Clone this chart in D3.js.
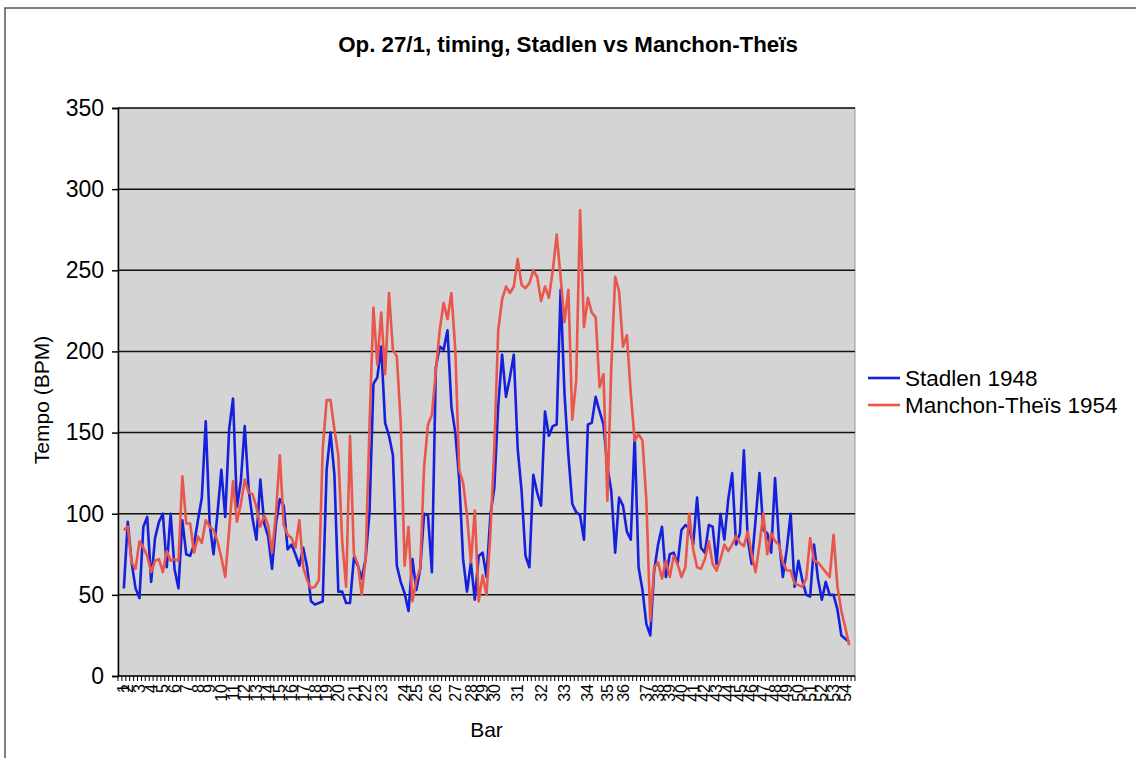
<!DOCTYPE html>
<html>
<head>
<meta charset="utf-8">
<script src="https://cdn.jsdelivr.net/npm/d3@7"></script>
<style>
  body { margin: 0; background: #fff; }
  svg { display: block; font-family: 'Liberation Sans', Arial, sans-serif; }
</style>
</head>
<body>
<div id="chart"></div>
<script>
const width = 1136;
const height = 758;

// tempo per beat (BPM)
const stadlen = [
  54, 95, 70, 54, 48, 92, 98, 58, 85, 95,
  100, 67, 100, 66, 54, 96, 75, 74, 81, 96,
  110, 157, 94, 75, 100, 127, 98, 152, 171, 104,
  120, 154, 115, 97, 84, 121, 94, 86, 66, 94,
  109, 105, 78, 81, 75, 68, 79, 67, 46, 44,
  45, 46, 127, 150, 124, 52, 52, 45, 45, 73, 68,
  60, 72, 101, 180, 184, 203, 156, 148, 136, 68,
  58, 51, 40, 72, 53, 66, 100, 99, 64,
  190, 203, 201, 213, 166, 150, 121, 72, 52, 70,
  47, 74, 76, 61, 99, 116, 166, 198, 172, 184,
  198, 140, 114, 74, 67, 124, 113, 105, 163, 148,
  154, 155, 238, 174, 136, 106, 101, 99, 84, 155,
  156, 172, 163, 155, 129, 114, 76, 110, 105, 89,
  84, 148, 67, 53, 32, 25, 65, 81, 92, 61,
  75, 76, 69, 90, 93, 91, 81, 110, 79, 76,
  93, 92, 69, 100, 84, 109, 125, 81, 88, 139,
  84, 69, 96, 125, 90, 88, 76, 122, 84, 61,
  78, 100, 55, 71, 59, 50, 49, 81, 60, 47,
  58, 50, 50, 41, 25, 23, 21
];

const manchon = [
  90, 92, 70, 66, 83, 79, 74, 64, 71, 72,
  64, 77, 71, 72, 71, 123, 94, 94, 76, 86,
  82, 96, 92, 90, 83, 73, 61, 90, 120, 95,
  106, 121, 113, 112, 104, 92, 99, 93, 76, 100,
  136, 93, 87, 85, 79, 96, 67, 59, 54, 55, 59,
  140, 170, 170, 152, 136, 83, 55, 148, 75, 69,
  50, 72, 154, 227, 192, 224, 186, 236, 201, 197,
  156, 68, 92, 46, 59, 66, 129, 155, 161,
  188, 213, 230, 220, 236, 201, 127, 119, 99, 70,
  102, 46, 62, 50, 88, 140, 213, 232, 240, 236,
  240, 257, 241, 239, 242, 250, 246, 231, 240, 233,
  250, 272, 246, 218, 238, 158, 182, 287, 215, 233,
  224, 221, 178, 186, 108, 190, 246, 237, 203, 210,
  174, 145, 149, 145, 108, 34, 67, 70, 60, 71,
  61, 74, 69, 61, 67, 100, 78, 67, 66, 72,
  83, 69, 65, 72, 81, 77, 81, 86, 82, 80,
  89, 75, 64, 81, 100, 75, 88, 83, 81, 70,
  65, 65, 57, 56, 55, 60, 85, 71, 70, 67,
  64, 61, 87, 55, 40, 30, 19
];

// bar number and index of the beat where its label sits
const barNumbers = d3.range(1, 55);
const barStarts = [
  0, 1, 4, 7, 10, 13, 16, 19, 22, 25,
  28, 31, 34, 37, 40, 43, 46, 49, 52, 55,
  59, 62, 66, 72, 75, 80, 85, 89, 92, 95,
  101, 107, 113, 119, 124, 128, 134, 137, 140, 143,
  146, 149, 152, 155, 158, 161, 164, 167, 170, 173,
  176, 179, 182, 185
];

const yTicks = [0, 50, 100, 150, 200, 250, 300, 350];
const seriesNames = ['Stadlen 1948', 'Manchon-Theïs 1954'];
const seriesColors = ['#1420dc', '#e8564c'];

const margin = { top: 108, right: 281, bottom: 82, left: 118 };
const plotW = width - margin.left - margin.right;
const plotH = height - margin.top - margin.bottom;

const svg = d3
  .select('#chart')
  .append('svg')
  .attr('width', width)
  .attr('height', height);

// outer chart frame
svg.append('path')
  .attr('d', 'M5,' + height + 'V8H' + width)
  .attr('fill', 'none')
  .attr('stroke', '#555')
  .attr('stroke-width', 1.5);

const g = svg.append('g').attr('transform', `translate(${margin.left},${margin.top})`);

const N = stadlen.length;
const x = d3.scalePoint().domain(d3.range(N)).range([0, plotW]).padding(1.5);
const y = d3.scaleLinear().domain([0, 350]).range([plotH, 0]);

g.append('rect')
  .attr('width', plotW)
  .attr('height', plotH)
  .attr('fill', '#d4d4d4')
  .attr('stroke', '#9a9a9a')
  .attr('stroke-width', 1);

g.selectAll('line.grid')
  .data(yTicks.slice(1))
  .enter()
  .append('line')
  .attr('class', 'grid')
  .attr('x1', 0)
  .attr('x2', plotW)
  .attr('y1', (d) => y(d))
  .attr('y2', (d) => y(d))
  .attr('stroke', '#111')
  .attr('stroke-width', 1.5);

// y axis
const yAxis = d3.axisLeft(y).tickValues(yTicks).tickSize(6).tickPadding(8);
g.append('g')
  .call(yAxis)
  .call((s) => s.select('.domain').attr('stroke', '#000').attr('stroke-width', 1.5))
  .call((s) => s.selectAll('.tick line').attr('stroke', '#000').attr('stroke-width', 1.5))
  .call((s) =>
    s.selectAll('.tick text')
      .attr('font-size', 23)
      .attr('fill', '#000')
      .attr('font-family', "'Liberation Sans', Arial, sans-serif")
  );

// x axis: one tick per beat boundary
const step = x.step();
const tickPos = d3.range(N + 4).map((k) => k * step).filter((v) => v <= plotW + 0.5);
const xa = g.append('g').attr('transform', `translate(0,${plotH})`);
xa.append('line')
  .attr('x1', 0)
  .attr('x2', plotW)
  .attr('stroke', '#000')
  .attr('stroke-width', 1.5);
xa.selectAll('line.tick')
  .data(tickPos)
  .enter()
  .append('line')
  .attr('class', 'tick')
  .attr('x1', (d) => d)
  .attr('x2', (d) => d)
  .attr('y1', 0)
  .attr('y2', 5)
  .attr('stroke', '#000')
  .attr('stroke-width', 1);

xa.selectAll('text')
  .data(barNumbers)
  .enter()
  .append('text')
  .attr('transform', (d, i) => `translate(${x(barStarts[i])},8) rotate(-90)`)
  .attr('text-anchor', 'end')
  .attr('dy', '0.35em')
  .attr('font-size', 16)
  .attr('fill', '#000')
  .text((d) => d);

// lines
const line = d3
  .line()
  .x((d, i) => x(i))
  .y((d) => y(d));

[stadlen, manchon].forEach((s, k) => {
  g.append('path')
    .datum(s)
    .attr('d', line)
    .attr('fill', 'none')
    .attr('stroke', seriesColors[k])
    .attr('stroke-width', 2.6)
    .attr('stroke-linejoin', 'round');
});

// titles
svg.append('text')
  .attr('x', 568)
  .attr('y', 52)
  .attr('text-anchor', 'middle')
  .attr('font-size', 22.3)
  .attr('font-weight', 'bold')
  .text('Op. 27/1, timing, Stadlen vs Manchon-Theïs');

svg.append('text')
  .attr('transform', 'translate(49,400) rotate(-90)')
  .attr('text-anchor', 'middle')
  .attr('font-size', 21)
  .text('Tempo (BPM)');

svg.append('text')
  .attr('x', margin.left + plotW / 2)
  .attr('y', 737)
  .attr('text-anchor', 'middle')
  .attr('font-size', 21)
  .text('Bar');

// legend
const legend = svg.append('g').attr('transform', 'translate(868,378)');
seriesNames.forEach((name, k) => {
  const row = legend.append('g').attr('transform', `translate(0,${k * 27})`);
  row.append('line')
    .attr('x1', 0)
    .attr('x2', 32)
    .attr('stroke', seriesColors[k])
    .attr('stroke-width', 2.6);
  row.append('text')
    .attr('x', 37)
    .attr('dy', '0.35em')
    .attr('font-size', 22.5)
    .text(name);
});
</script>
</body>
</html>
